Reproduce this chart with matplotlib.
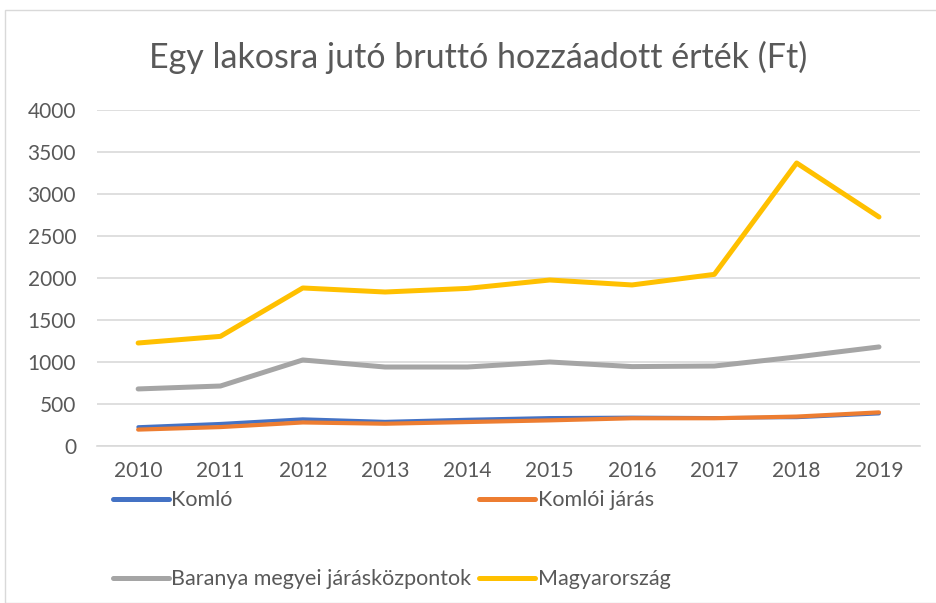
import matplotlib.pyplot as plt
from matplotlib.patches import Rectangle

years = ['2010', '2011', '2012', '2013', '2014', '2015', '2016', '2017', '2018', '2019']
komlo = [226, 265, 320, 290, 315, 335, 340, 335, 340, 385]
komloi_jaras = [195, 225, 280, 265, 285, 305, 330, 330, 350, 400]
baranya = [679, 714, 1024, 940, 940, 1000, 945, 952, 1060, 1179]
magyarorszag = [1226, 1305, 1881, 1833, 1876, 1976, 1917, 2043, 3369, 2726]

plt.rcParams['font.family'] = ['Lato', 'DejaVu Sans']
txt = '#595959'

fig = plt.figure(figsize=(9.37, 6.03), dpi=100)
ax = fig.add_axes([0.1035, 0.2604, 0.8785, 0.5572])

x = range(len(years))
l1, = ax.plot(x, komlo, color='#4472C4', lw=2.6, solid_capstyle='round', label='Komló')
l2, = ax.plot(x, komloi_jaras, color='#ED7D31', lw=3.0, solid_capstyle='round', label='Komlói járás')
l3, = ax.plot(x, baranya, color='#A5A5A5', lw=3.6, solid_capstyle='round', label='Baranya megyei járásközpontok')
l4, = ax.plot(x, magyarorszag, color='#FFC000', lw=3.6, solid_capstyle='round', label='Magyarország')

ax.set_xlim(-0.5, 9.5)
ax.set_ylim(0, 4000)
ax.set_yticks(range(0, 4001, 500))
ax.set_xticks(list(x))
ax.set_xticklabels(years)
ax.grid(axis='y', color='#D9D9D9', lw=1.2)
ax.set_axisbelow(True)
for s in ['top', 'right', 'left']:
    ax.spines[s].set_visible(False)
ax.spines['bottom'].set_color('#D9D9D9')
ax.spines['bottom'].set_linewidth(1.2)
ax.tick_params(length=0, labelsize=15, colors=txt)
ax.tick_params(axis='x', pad=11)
ax.tick_params(axis='y', pad=15)

fig.text(0.51, 0.905, 'Egy lakosra jutó bruttó hozzáadott érték (Ft)',
         ha='center', va='center', fontsize=24.5, color=txt)

leg = fig.legend([l1, l3, l2, l4],
                 [l1.get_label(), l3.get_label(), l2.get_label(), l4.get_label()],
                 ncol=2, loc='upper left', bbox_to_anchor=(0.109, 0.205),
                 frameon=False, fontsize=15.5, labelcolor=txt,
                 handlelength=2.6, handletextpad=0.12, labelspacing=2.75,
                 columnspacing=0.35, borderpad=0)
for line in leg.get_lines():
    line.set_linewidth(3.6)

fig.patches.append(Rectangle((5 / 937, 0), 1, 1 - 10 / 603, transform=fig.transFigure,
                             fill=False, edgecolor='#D9D9D9', lw=1))

fig.savefig('out.png', dpi=100)
